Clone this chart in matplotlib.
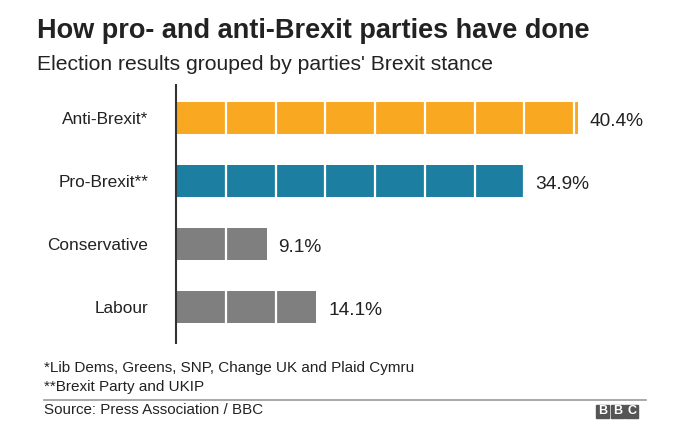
import matplotlib
matplotlib.use("Agg")
import matplotlib.pyplot as plt
from matplotlib.patches import Rectangle

categories = ["Anti-Brexit*", "Pro-Brexit**", "Conservative", "Labour"]
values = [40.4, 34.9, 9.1, 14.1]
value_labels = ["40.4%", "34.9%", "9.1%", "14.1%"]
colors = ["#F9A921", "#1C7FA2", "#7F7F7F", "#7F7F7F"]
grid_ticks = [5, 10, 15, 20, 25, 30, 35, 40]

plt.rcParams['font.family'] = ['Liberation Sans', 'DejaVu Sans']

W, H = 680, 426
fig = plt.figure(figsize=(W / 100, H / 100), dpi=100)

# axes in pixel coordinates
x0, x1 = 176, 176 + 45 * 9.95
ytop, ybot = 85, 343
ax = fig.add_axes([x0 / W, (H - ybot) / H, (x1 - x0) / W, (ybot - ytop) / H])
ax.set_xlim(0, 45)
ax.set_ylim(3 + 36 / 63, -33 / 63)

ypos = list(range(len(categories)))
ax.barh(ypos, values, height=0.5, color=colors, zorder=1)
for g in grid_ticks:
    ax.axvline(g, color="white", lw=1.6, zorder=2)
for y, v, lab in zip(ypos, values, value_labels):
    ax.text(v + 1.2, y + 0.12, lab, va="baseline", ha="left", fontsize=13.8,
            color="#222222")

ax.set_yticks(ypos)
ax.set_yticklabels(categories, fontsize=12.4, color="#222222")
ax.tick_params(axis="y", length=0, pad=20)
ax.set_xticks([])
for s in ["top", "right", "bottom"]:
    ax.spines[s].set_visible(False)
ax.spines["left"].set_color("#333333")
ax.spines["left"].set_linewidth(1.5)

def ftext(x, y, s, **kw):
    fig.text(x / W, 1 - y / H, s, **kw)

ftext(37, 31, "How pro- and anti-Brexit parties have done", fontsize=19.5,
      fontweight="bold", color="#222222", va="center")
ftext(37, 64, "Election results grouped by parties' Brexit stance", fontsize=15.2,
      color="#222222", va="center")
ftext(44, 368, "*Lib Dems, Greens, SNP, Change UK and Plaid Cymru", fontsize=11,
      color="#222222", va="center")
ftext(44, 387, "**Brexit Party and UKIP", fontsize=11, color="#222222", va="center")
ftext(44, 410, "Source: Press Association / BBC", fontsize=10.9, color="#222222", va="center")

# separator line
fig.add_artist(plt.Line2D([44 / W, 646 / W], [1 - 400 / H, 1 - 400 / H],
                          color="#999999", lw=1.2))

# BBC logo
for i, letter in enumerate("BBC"):
    bx = 596 + i * 14.7
    fig.add_artist(Rectangle((bx / W, 1 - 417.5 / H), 13 / W, 13 / H,
                             transform=fig.transFigure, color="#555555"))
    fig.text((bx + 6.5) / W, 1 - 411 / H, letter, fontsize=9, fontweight="bold",
             color="white", ha="center", va="center")

fig.savefig("out.png", dpi=100, facecolor="white")
